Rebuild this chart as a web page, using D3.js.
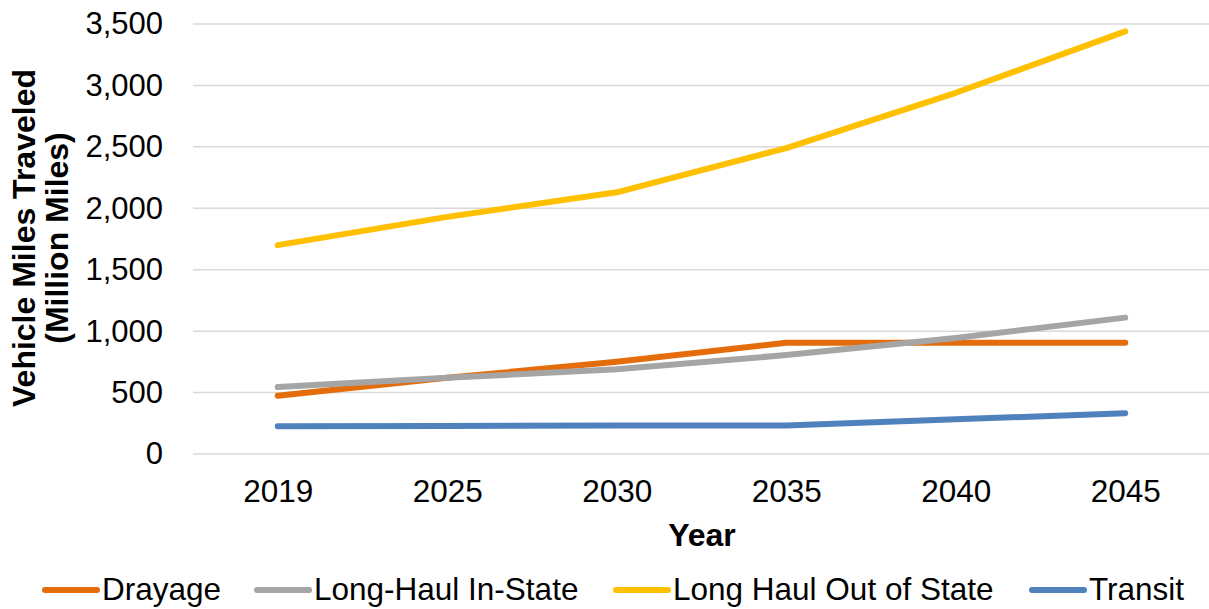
<!DOCTYPE html>
<html>
<head>
<meta charset="utf-8">
<script src="https://cdn.jsdelivr.net/npm/d3@7"></script>
<style>
  body { margin: 0; background: #fff; }
  svg { font-family: "Liberation Sans", Arial, sans-serif; }
</style>
</head>
<body>
<svg id="chart" width="1209" height="609"></svg>
<script>
let years = ['2019', '2025', '2030', '2035', '2040', '2045'];
let drayage = [475, 620, 750, 905, 905, 905];
let longHaulInState = [545, 620, 690, 805, 945, 1110];
let longHaulOutOfState = [1700, 1930, 2130, 2490, 2940, 3440];
let transit = [225, 228, 232, 232, 282, 332];
let yTicks = [0, 500, 1000, 1500, 2000, 2500, 3000, 3500];

let seriesNames = ['Drayage', 'Long-Haul In-State', 'Long Haul Out of State', 'Transit'];
let seriesColors = ['#E46C0A', '#A5A5A5', '#FFC000', '#4F81BD'];
let seriesValues = [drayage, longHaulInState, longHaulOutOfState, transit];

let svg = d3.select('#chart');
let plotLeft = 193, plotRight = 1210, plotTop = 24, plotBottom = 454;

let x = d3.scalePoint().domain(years).range([plotLeft, plotRight]).padding(0.5);
let y = d3.scaleLinear().domain([0, 3500]).range([plotBottom, plotTop]);

// gridlines
svg.append('g')
  .selectAll('line')
  .data(yTicks)
  .enter()
  .append('line')
  .attr('x1', plotLeft)
  .attr('x2', plotRight)
  .attr('y1', (d) => y(d))
  .attr('y2', (d) => y(d))
  .attr('stroke', '#d9d9d9')
  .attr('stroke-width', 1.5);

// y axis labels
let yAxis = svg.append('g')
  .attr('transform', 'translate(' + (plotLeft - 30) + ',0)')
  .call(d3.axisLeft(y).tickValues(yTicks).tickSize(0).tickPadding(0).tickFormat(d3.format(',')));
yAxis.select('.domain').remove();
yAxis.selectAll('text')
  .attr('font-size', 31)
  .attr('font-family', '"Liberation Sans", Arial, sans-serif')
  .attr('fill', '#000');

// x axis labels
let xAxis = svg.append('g')
  .attr('transform', 'translate(0,' + (plotBottom + 26) + ')')
  .call(d3.axisBottom(x).tickSize(0).tickPadding(0));
xAxis.select('.domain').remove();
xAxis.selectAll('text')
  .attr('font-size', 31.5)
  .attr('font-family', '"Liberation Sans", Arial, sans-serif')
  .attr('fill', '#000');

// axis titles
svg.append('text')
  .attr('x', 702)
  .attr('y', 546)
  .attr('text-anchor', 'middle')
  .attr('font-size', 32)
  .attr('font-weight', 'bold')
  .text('Year');

let yTitle = svg.append('text')
  .attr('transform', 'translate(35,238) rotate(-90)')
  .attr('text-anchor', 'middle')
  .attr('font-size', 32)
  .attr('font-weight', 'bold');
yTitle.append('tspan').attr('x', 0).attr('y', 0).text('Vehicle Miles Traveled');
yTitle.append('tspan').attr('x', 0).attr('y', 33).text('(Million Miles)');

// lines
let line = d3.line()
  .x((d, i) => x(years[i]))
  .y((d) => y(d));

svg.append('g')
  .selectAll('path')
  .data(seriesValues)
  .enter()
  .append('path')
  .attr('d', (d) => line(d))
  .attr('fill', 'none')
  .attr('stroke', (d, i) => seriesColors[i])
  .attr('stroke-width', 6)
  .attr('stroke-linecap', 'round')
  .attr('stroke-linejoin', 'round');

// legend
let legendX = [42, 254, 613, 1029];
let legend = svg.append('g')
  .selectAll('g')
  .data(seriesNames)
  .enter()
  .append('g')
  .attr('transform', (d, i) => 'translate(' + legendX[i] + ',590)');
legend.append('line')
  .attr('x1', 3)
  .attr('x2', 55)
  .attr('stroke', (d, i) => seriesColors[i])
  .attr('stroke-width', 6)
  .attr('stroke-linecap', 'round');
legend.append('text')
  .attr('x', 60)
  .attr('y', 10)
  .attr('font-size', 31.5)
  .text((d) => d);
</script>
</body>
</html>
